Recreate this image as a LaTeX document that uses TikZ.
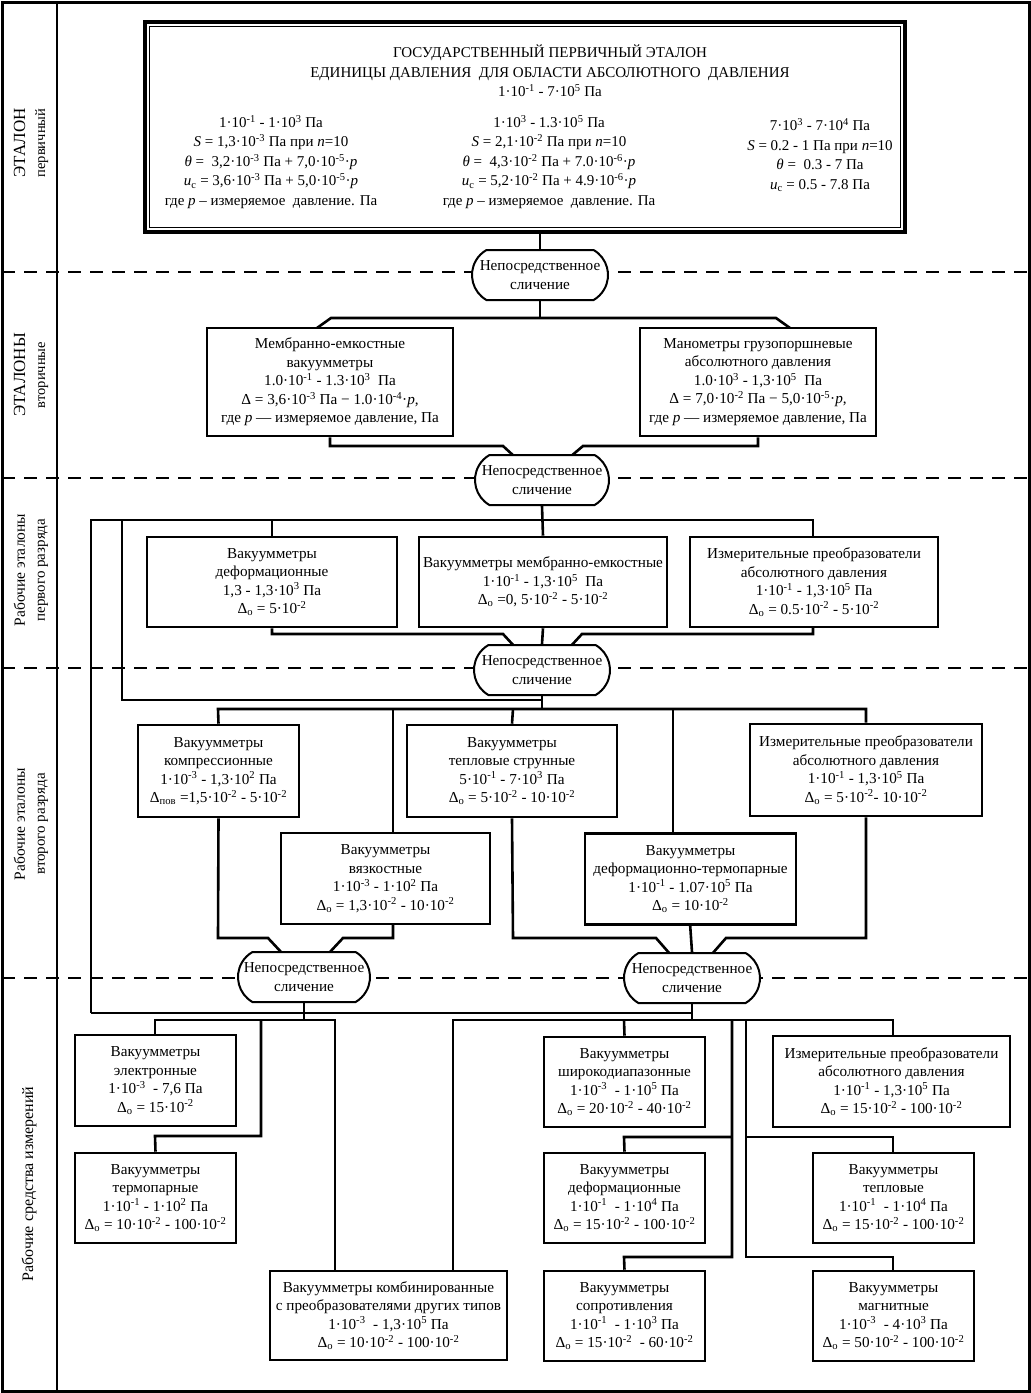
\documentclass[tikz,border=0pt]{standalone}
\usepackage{fontspec}
\setmainfont{Liberation Serif}
\usetikzlibrary{shapes.misc}
\pgfdeclarelayer{bg}
\pgfsetlayers{bg,main}
\newcommand{\tp}[1]{\textsuperscript{#1}}
\newcommand{\Dlo}{Δ\textsubscript{о}}
\newcommand{\fsz}{\fontsize{15.2}{18.5}\selectfont}
\newcommand{\fsc}{\fontsize{15}{19.5}\selectfont}
\begin{document}
\begin{tikzpicture}[x=1pt,y=-1pt,
 box/.style={draw, line width=2.6pt, fill=white, align=center, inner sep=1pt, font=\fsz},
 oval/.style={draw, line width=2pt, fill=white, rounded rectangle, rounded rectangle arc length=120,
   minimum width=136pt, minimum height=50pt, align=center, inner sep=0pt, font=\fsz},
 conn/.style={line width=2.6pt},
 sep/.style={line width=2.4pt, dash pattern=on 13pt off 9pt},
 lab/.style={rotate=90, align=center, inner sep=0pt, font=\fontsize{15}{20}\selectfont},
 txt/.style={align=center, inner sep=0pt, font=\fsc}]
\useasboundingbox (0,0) rectangle (1031,1393);

% ---------- frame and left column labels ----------
\draw[line width=3pt] (2,2) rectangle (1029,1391);
\draw[line width=2pt] (57,2) -- (57,1391);
\node[lab] (lab1) at (31,143) {{\fontsize{17}{20}\selectfont ЭТАЛОН}\\{\fontsize{14.5}{20}\selectfont первичный}};
\node[lab] (lab2) at (31,375) {{\fontsize{17}{20}\selectfont ЭТАЛОНЫ}\\{\fontsize{14.5}{20}\selectfont вторичные}};
\node[lab] (lab3) at (31,570) {{\fontsize{15.5}{20}\selectfont Рабочие эталоны}\\{\fontsize{15}{20}\selectfont первого разряда}};
\node[lab] (lab4) at (31,824) {{\fontsize{15.5}{20}\selectfont Рабочие эталоны}\\{\fontsize{15}{20}\selectfont второго разряда}};
\node[lab] (lab5) at (29,1184) {\fontsize{16}{20}\selectfont Рабочие средства измерений};

% ---------- primary standard ----------
\node[draw, line width=4pt, minimum width=760pt, minimum height=210pt, inner sep=0pt, fill=white] (top) at (525,127) {};
\draw[line width=1.3pt] ([shift={(6.5pt,6.5pt)}]top.south west) rectangle ([shift={(-6.5pt,-6.5pt)}]top.north east);
\node[txt] (title) at (550,71) {ГОСУДАРСТВЕННЫЙ ПЕРВИЧНЫЙ ЭТАЛОН\\ЕДИНИЦЫ ДАВЛЕНИЯ\ \ ДЛЯ ОБЛАСТИ АБСОЛЮТНОГО\ \ ДАВЛЕНИЯ\\1·10\tp{-1} - 7·10\tp{5} Па};
\node[txt] (colA) at (271,162) {1·10\tp{-1} - 1·10\tp{3} Па\\
 \textit{S} = 1,3·10\tp{-3} Па при \textit{n}=10\\
 \textit{θ} =\ \ 3,2·10\tp{-3} Па + 7,0·10\tp{-5}·\textit{p}\\
 \textit{u}\textsubscript{c} = 3,6·10\tp{-3} Па + 5,0·10\tp{-5}·\textit{p}\\
 где \textit{p} – измеряемое\ \ давление. Па};
\node[txt] (colB) at (549,162) {1·10\tp{3} - 1.3·10\tp{5} Па\\
 \textit{S} = 2,1·10\tp{-2} Па при \textit{n}=10\\
 \textit{θ} =\ \ 4,3·10\tp{-2} Па + 7.0·10\tp{-6}·\textit{p}\\
 \textit{u}\textsubscript{c} = 5,2·10\tp{-2} Па + 4.9·10\tp{-6}·\textit{p}\\
 где \textit{p} – измеряемое\ \ давление. Па};
\node[txt] (colC) at (820,155) {7·10\tp{3} - 7·10\tp{4} Па\\
 \textit{S} = 0.2 - 1 Па при \textit{n}=10\\
 \textit{θ} =\ \ 0.3 - 7 Па\\
 \textit{u}\textsubscript{c} = 0.5 - 7.8 Па};

% ---------- nodes ----------
\node[oval] (o1) at (540,275) {Непосредственное\\сличение};
\node[box, minimum width=246pt, minimum height=108pt] (sL) at (330,382) {Мембранно-емкостные\\вакуумметры\\1.0·10\tp{-1} - 1.3·10\tp{3}\ \ Па\\Δ = 3,6·10\tp{-3} Па − 1.0·10\tp{-4}·\textit{p},\\где \textit{p} — измеряемое давление, Па};
\node[box, minimum width=236pt, minimum height=108pt] (sR) at (758,382) {Манометры грузопоршневые\\абсолютного давления\\1.0·10\tp{3} - 1,3·10\tp{5}\ \ Па\\Δ = 7,0·10\tp{-2} Па − 5,0·10\tp{-5}·\textit{p},\\где \textit{p} — измеряемое давление, Па};
\node[oval, minimum width=134pt] (o2) at (542,480) {Непосредственное\\сличение};

\node[box, minimum width=250pt, minimum height=90pt] (b1) at (272,582) {Вакуумметры\\деформационные\\1,3 - 1,3·10\tp{3} Па\\\Dlo{} = 5·10\tp{-2}};
\node[box, minimum width=248pt, minimum height=90pt] (b2) at (543,582) {Вакуумметры мембранно-емкостные\\1·10\tp{-1} - 1,3·10\tp{5}\ \ Па\\\Dlo{} =0, 5·10\tp{-2} - 5·10\tp{-2}};
\node[box, minimum width=248pt, minimum height=90pt] (b3) at (814,582) {Измерительные преобразователи\\абсолютного давления\\1·10\tp{-1} - 1,3·10\tp{5} Па\\\Dlo{} = 0.5·10\tp{-2} - 5·10\tp{-2}};
\node[oval] (o3) at (542,670) {Непосредственное\\сличение};

\node[box, minimum width=161pt, minimum height=92pt] (c1) at (218.5,771) {Вакуумметры\\компрессионные\\1·10\tp{-3} - 1,3·10\tp{2} Па\\Δ\textsubscript{пов} =1,5·10\tp{-2} - 5·10\tp{-2}};
\node[box, minimum width=210pt, minimum height=92pt] (c2) at (512,771) {Вакуумметры\\тепловые струнные\\5·10\tp{-1} - 7·10\tp{3} Па\\\Dlo{} = 5·10\tp{-2} - 10·10\tp{-2}};
\node[box, minimum width=232pt, minimum height=92pt] (c3) at (866,770) {Измерительные преобразователи\\абсолютного давления\\1·10\tp{-1} - 1,3·10\tp{5} Па\\\Dlo{} = 5·10\tp{-2}- 10·10\tp{-2}};
\node[box, minimum width=209pt, minimum height=91pt] (c4) at (385.5,878.5) {Вакуумметры\\вязкостные\\1·10\tp{-3} - 1·10\tp{2} Па\\\Dlo{} = 1,3·10\tp{-2} - 10·10\tp{-2}};
\node[box, minimum width=211pt, minimum height=91pt] (c5) at (690.5,879) {Вакуумметры\\деформационно-термопарные\\1·10\tp{-1} - 1.07·10\tp{5} Па\\\Dlo{} = 10·10\tp{-2}};
\node[oval, minimum width=132pt] (o4) at (304,977) {Непосредственное\\сличение};
\node[oval] (o5) at (692,978) {Непосредственное\\сличение};

\node[box, minimum width=161pt, minimum height=91pt] (d1) at (155.5,1080.5) {Вакуумметры\\электронные\\1·10\tp{-3}\ \ - 7,6 Па\\\Dlo{} = 15·10\tp{-2}};
\node[box, minimum width=161pt, minimum height=90pt] (d2) at (155.5,1198) {Вакуумметры\\термопарные\\1·10\tp{-1} - 1·10\tp{2} Па\\\Dlo{} = 10·10\tp{-2} - 100·10\tp{-2}};
\node[box, minimum width=237pt, minimum height=89pt] (d3) at (388.5,1315.5) {Вакуумметры комбинированные\\с преобразователями других типов\\1·10\tp{-3}\ \ - 1,3·10\tp{5} Па\\\Dlo{} = 10·10\tp{-2} - 100·10\tp{-2}};
\node[box, minimum width=161pt, minimum height=90pt] (d4) at (624.5,1082) {Вакуумметры\\широкодиапазонные\\1·10\tp{-3}\ \ - 1·10\tp{5} Па\\\Dlo{} = 20·10\tp{-2} - 40·10\tp{-2}};
\node[box, minimum width=161pt, minimum height=90pt] (d5) at (624.5,1198) {Вакуумметры\\деформационные\\1·10\tp{-1}\ \ - 1·10\tp{4} Па\\\Dlo{} = 15·10\tp{-2} - 100·10\tp{-2}};
\node[box, minimum width=161pt, minimum height=90pt] (d6) at (624.5,1316) {Вакуумметры\\сопротивления\\1·10\tp{-1}\ \ - 1·10\tp{3} Па\\\Dlo{} = 15·10\tp{-2}\ \ - 60·10\tp{-2}};
\node[box, minimum width=237pt, minimum height=91pt] (d7) at (891.5,1081.5) {Измерительные преобразователи\\абсолютного давления\\1·10\tp{-1} - 1,3·10\tp{5} Па\\\Dlo{} = 15·10\tp{-2} - 100·10\tp{-2}};
\node[box, minimum width=161pt, minimum height=90pt] (d8) at (893.5,1198) {Вакуумметры\\тепловые\\1·10\tp{-1}\ \ - 1·10\tp{4} Па\\\Dlo{} = 15·10\tp{-2} - 100·10\tp{-2}};
\node[box, minimum width=161pt, minimum height=90pt] (d9) at (893.5,1316) {Вакуумметры\\магнитные\\1·10\tp{-3}\ \ - 4·10\tp{3} Па\\\Dlo{} = 50·10\tp{-2} - 100·10\tp{-2}};

% ---------- background: separators and connectors ----------
\begin{pgfonlayer}{bg}
\fill[white] (0,0) rectangle (1031,1393);
\foreach \yy in {272,478,668,978} \draw[sep] (2,\yy) -- (1029,\yy);
% primary -> secondary
\draw[conn] (o1.north |- top.south) -- (o1.north);
\draw[conn] (o1.south) -- (540,318);
\draw[conn] (317,328) -- (331,318) -- (776,318) -- (790,328);
\draw[conn] (sL.south) -- (330,446) -- (503,446) -- (515,457);
\draw[conn] (sR.south) -- (758,446) -- (583,446) -- (570,457);
% secondary -> first rank
\draw[conn] (o2.south) -- (b2.north);
\draw[conn] (91,1013) -- (91,520) -- (813,520) -- (813,540);
\draw[conn] (122,520) -- (122,700) -- (542,700);
\draw[conn] (272,520) -- (b1.north);
\draw[conn] (b1.south) -- (272,634) -- (503,634) -- (515,647);
\draw[conn] (813,624) -- (813,634) -- (582,634) -- (570,647);
\draw[conn] (b2.south) -- (o3.north);
% first rank -> second rank
\draw[conn] (o3.south) -- (542,709);
\draw[conn] (c1.north) -- (218,709) -- (866,709) -- (c3.north);
\draw[conn] (393,709) -- (393,835);
\draw[conn] (c2.north) -- (513,709);
\draw[conn] (673,709) -- (673,836);
\draw[conn] (c1.south) -- (218,938) -- (268,938) -- (282,953);
\draw[conn] (393,922) -- (393,938) -- (343,938) -- (329,953);
\draw[conn] (c2.south) -- (513,938) -- (656,938) -- (670,954);
\draw[conn] (690,923) -- (o5.north);
\draw[conn] (c3.south) -- (866,938) -- (726,938) -- (712,954);
% second rank -> working instruments
\draw[conn] (o4.south) -- (304,1020);
\draw[conn] (91,1013) -- (692,1013);
\draw[conn] (o5.south) -- (692,1020);
\draw[conn] (155,1037) -- (155,1020) -- (335,1020) -- (335,1273);
\draw[conn] (261,1020) -- (261,1136) -- (155,1136) -- (d2.north);
\draw[conn] (453,1273) -- (453,1020) -- (893,1020) -- (893,1038);
\draw[conn] (624,1020) -- (d4.north);
\draw[conn] (732,1020) -- (732,1257) -- (624,1257) -- (d6.north);
\draw[conn] (732,1137) -- (624,1137) -- (d5.north);
\draw[conn] (746,1020) -- (746,1257) -- (893,1257) -- (893,1273);
\draw[conn] (746,1137) -- (893,1137) -- (893,1155);
\end{pgfonlayer}
\end{tikzpicture}
\end{document}
